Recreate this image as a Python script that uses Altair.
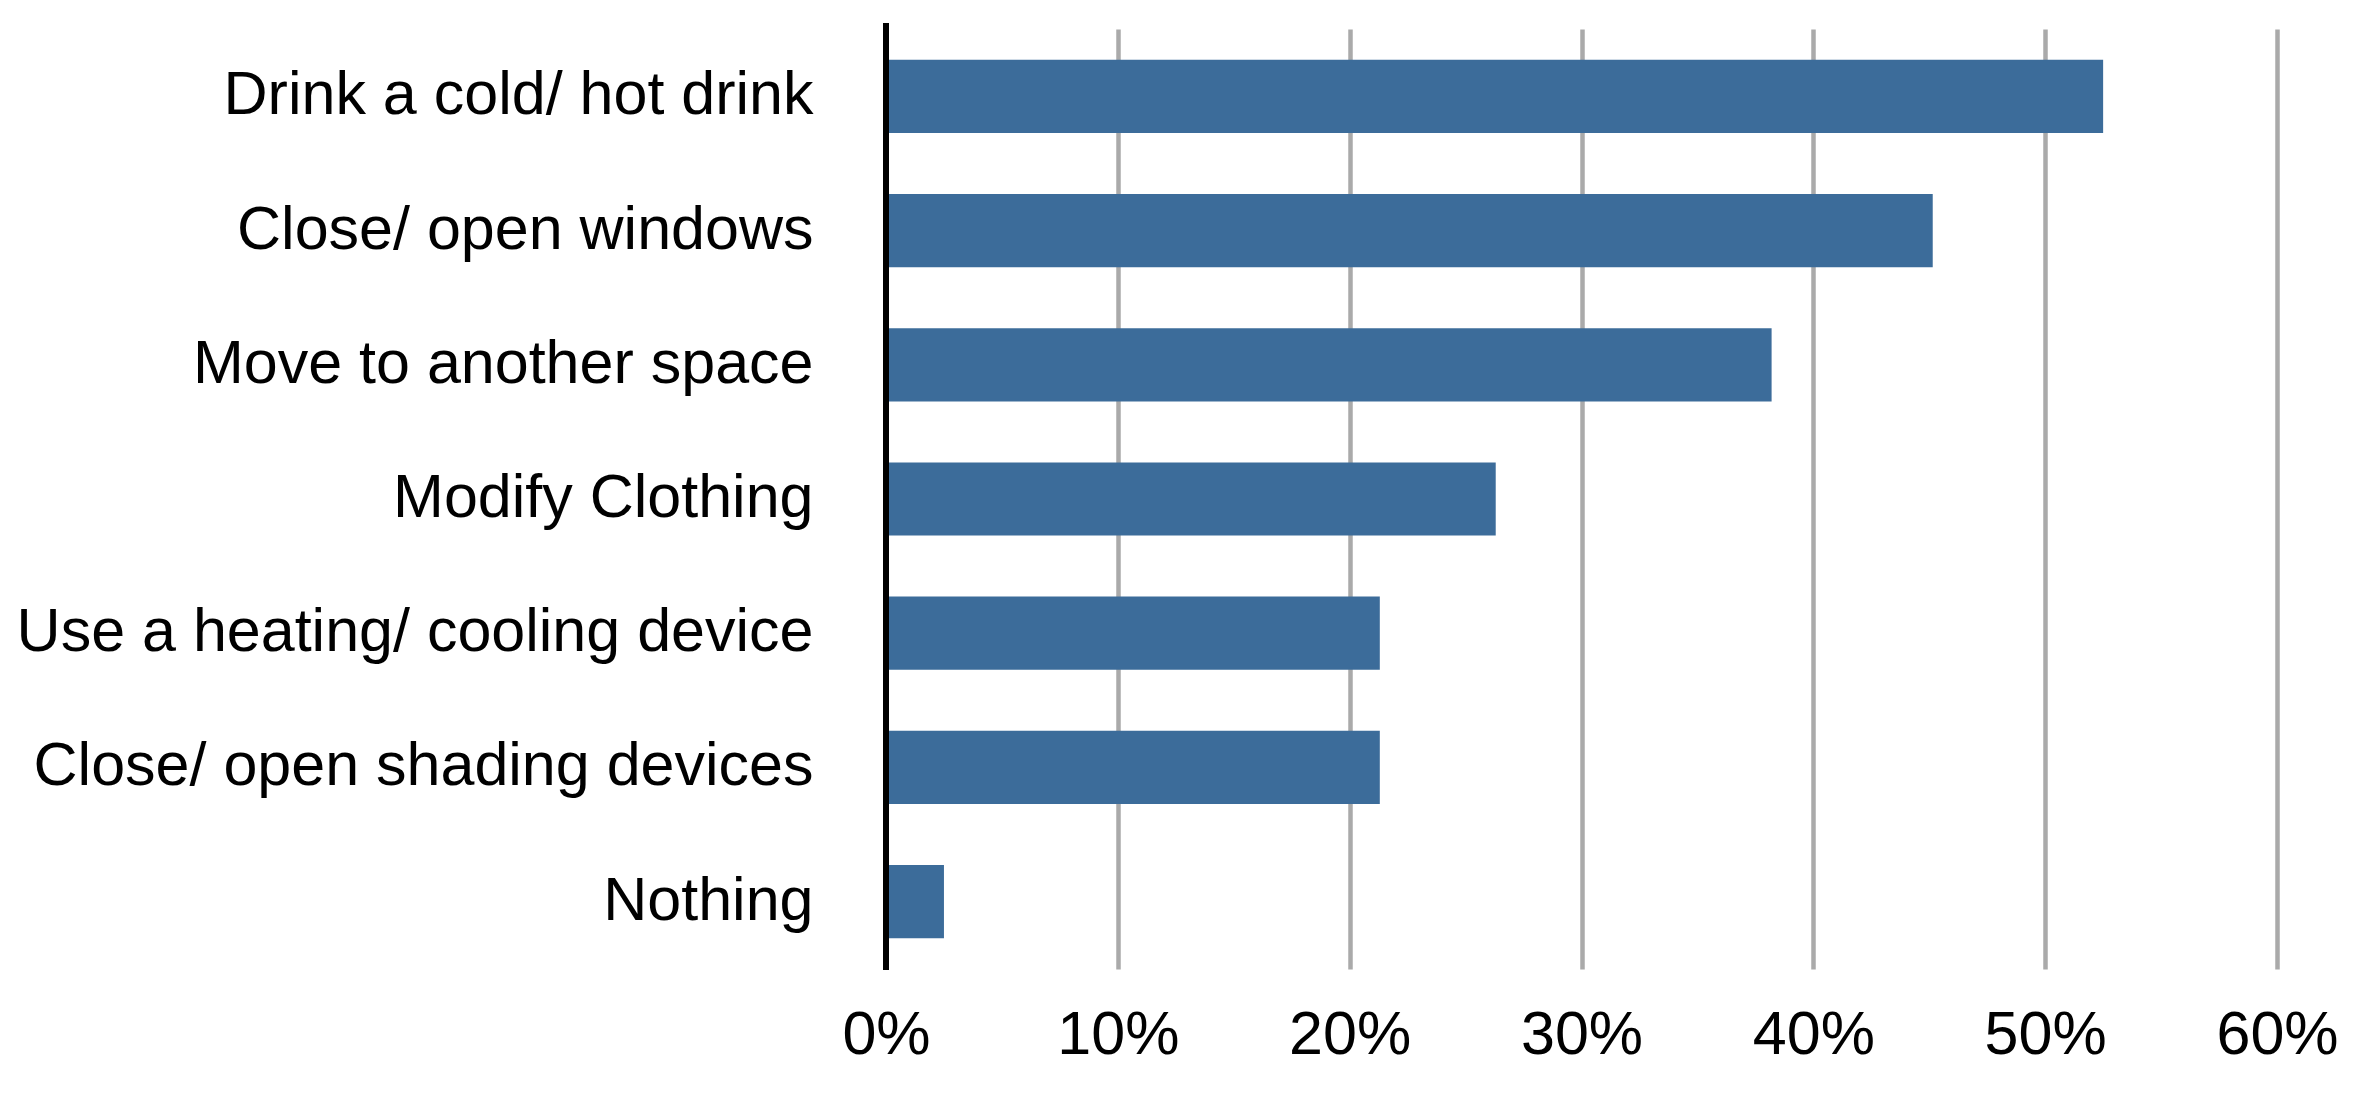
import altair as alt
import pandas as pd

categories = [
    "Drink a cold/ hot drink",
    "Close/ open windows",
    "Move to another space",
    "Modify Clothing",
    "Use a heating/ cooling device",
    "Close/ open shading devices",
    "Nothing",
]
shares = [0.525, 0.4515, 0.382, 0.263, 0.213, 0.213, 0.025]
tick_values = [0.0, 0.1, 0.2, 0.3, 0.4, 0.5, 0.6]

df = pd.DataFrame({"action": categories, "share": shares})

FONT = "Liberation Sans"
W, H = 1391, 940

bars = alt.Chart(df).mark_bar(color="#3c6c9a").encode(
    x=alt.X(
        "share:Q",
        scale=alt.Scale(domain=[0, 0.6], nice=False, zero=True),
        axis=alt.Axis(
            values=tick_values,
            format=".0%",
            title=None,
            domain=False,
            ticks=False,
            tickSize=0,
            grid=True,
            gridColor="#aaaaaa",
            gridWidth=4.5,
            labelFont=FONT,
            labelFontSize=61,
            labelColor="#000000",
            labelPadding=36,
            labelFlush=False,
        ),
    ),
    y=alt.Y(
        "action:N",
        sort=categories,
        scale=alt.Scale(paddingInner=0.455, paddingOuter=0.23),
        axis=alt.Axis(
            title=None,
            domain=False,
            ticks=False,
            tickSize=0,
            grid=False,
            labelFont=FONT,
            labelFontSize=61,
            labelColor="#000000",
            labelPadding=73,
            labelLimit=2000,
        ),
    ),
)

axis_line = alt.Chart(df).mark_rule(color="#000000", strokeWidth=5.5).encode(
    x=alt.value(0),
    y=alt.value(-6),
    y2=alt.value(H + 1),
)

chart = (
    alt.layer(bars, axis_line)
    .properties(
        width=W,
        height=H,
        autosize=alt.AutoSizeParams(type="none"),
        padding={"left": 878, "top": 21, "right": 70, "bottom": 120},
        view=alt.ViewBackground(strokeOpacity=0, strokeWidth=0),
    )
    .configure_view(strokeOpacity=0, strokeWidth=0)
    .configure_axis(domain=False, ticks=False)
    .configure(background="#ffffff")
)

chart.save("out.html", embed_options={"renderer": "svg", "actions": False})
